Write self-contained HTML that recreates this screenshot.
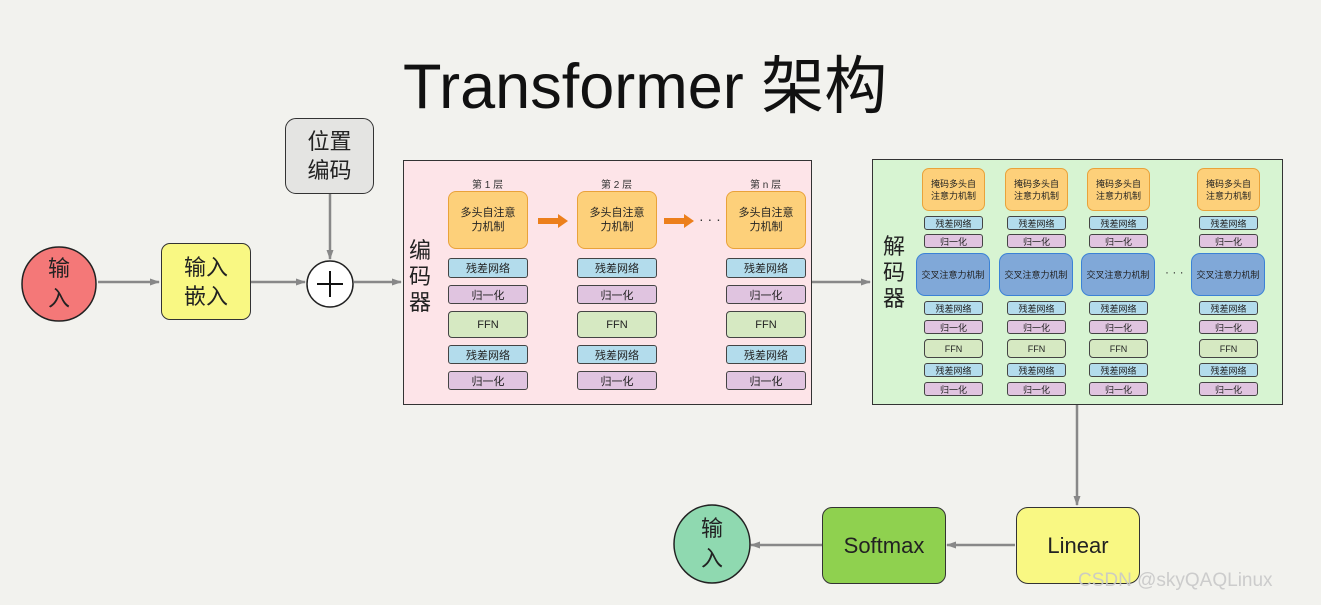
<!DOCTYPE html>
<html><head><meta charset="utf-8"><style>
*{margin:0;padding:0;box-sizing:border-box}
body{width:1321px;height:605px;background:#f2f2ee;position:relative;overflow:hidden;font-family:"Liberation Sans","Noto Sans CJK SC",sans-serif;color:#222}
.a{position:absolute;display:flex;align-items:center;justify-content:center;text-align:center;border:1.5px solid #333}
.r{background:#b3dcec;border-radius:3px;font-size:11px;border:1.3px solid #444}
.n{background:#e0c4e0;border-radius:3px;font-size:11px;border:1.3px solid #444}
.f{background:#d6e9c2;border-radius:4px;font-size:11px;border:1.3px solid #444}
.o{background:#fdd07a;border:1.5px solid #e9a23a;border-radius:8px;font-size:11px;line-height:14px}
.c{background:#80a8d8;border:1.5px solid #3b82d6;border-radius:9px;font-size:9px}
.d .r,.d .n,.d .f{font-size:9px}
.d .o{font-size:9px;line-height:12px;border-radius:7px}
.t{position:absolute;font-size:10px;color:#333}
</style></head><body>
<div style="position:absolute;left:403px;top:36px;font-size:63px;color:#111;">Transformer 架构</div>

<svg width="1321" height="605" style="position:absolute;left:0;top:0">
<defs><marker id="m" markerUnits="userSpaceOnUse" markerWidth="10" markerHeight="10" refX="9" refY="5" orient="auto"><path d="M0,1.5 L10,5 L0,8.5Z" fill="#888"/></marker></defs>
<g stroke="#888" stroke-width="2.5" fill="none">
<line x1="98" y1="282" x2="159" y2="282" marker-end="url(#m)"/>
<line x1="251" y1="282" x2="305" y2="282" marker-end="url(#m)"/>
<line x1="330" y1="194" x2="330" y2="259" marker-end="url(#m)"/>
<line x1="354" y1="282" x2="401" y2="282" marker-end="url(#m)"/>
<line x1="811" y1="282" x2="870" y2="282" marker-end="url(#m)"/>
<line x1="1077" y1="405" x2="1077" y2="505" marker-end="url(#m)"/>
<line x1="1015" y1="545" x2="947" y2="545" marker-end="url(#m)"/>
<line x1="822" y1="545" x2="751" y2="545" marker-end="url(#m)"/>
</g>
<circle cx="59" cy="284" r="37" fill="#f47878" stroke="#222" stroke-width="1.5"/>
<circle cx="330" cy="284" r="23" fill="#fff" stroke="#222" stroke-width="1.5"/>
<path d="M317,284 H343 M330,271 V297" stroke="#111" stroke-width="2"/>
<ellipse cx="712" cy="544" rx="38" ry="39" fill="#8fd9b0" stroke="#222" stroke-width="1.5"/>
</svg>
<div style="position:absolute;left:48px;top:254px;font-size:22px;line-height:30px">输<br>入</div>
<div style="position:absolute;left:701px;top:514px;font-size:22px;line-height:30px">输<br>入</div>
<div class="a" style="left:161px;top:243px;width:90px;height:77px;background:#f9f883;border-radius:9px;font-size:22px;line-height:29px">输入<br>嵌入</div>
<div class="a" style="left:285px;top:118px;width:89px;height:76px;background:#e4e4e2;border-radius:11px;font-size:22px;line-height:29px">位置<br>编码</div>

<!-- encoder -->
<div style="position:absolute;left:403px;top:160px;width:409px;height:245px;background:#fde4e8;border:1.5px solid #333"></div>
<svg width="1321" height="605" style="position:absolute;left:0;top:0">
<path d="M538,218 H558 V214 L568,221 L558,228 V224 H538Z" fill="#ec7f1b"/>
<path d="M664,218 H684 V214 L694,221 L684,228 V224 H664Z" fill="#ec7f1b"/>
</svg>
<div style="position:absolute;left:409px;top:238px;font-size:22px;line-height:26px">编<br>码<br>器</div>
<div class="t" style="left:472px;top:176px">第 1 层</div>
<div class="t" style="left:601px;top:176px">第 2 层</div>
<div class="t" style="left:750px;top:176px">第 n 层</div>
<div class="t" style="left:699px;top:211px;font-size:14px">· · ·</div>

<div class="a o" style="left:448px;top:191px;width:80px;height:58px">多头自注意<br>力机制</div>
<div class="a o" style="left:577px;top:191px;width:80px;height:58px">多头自注意<br>力机制</div>
<div class="a o" style="left:726px;top:191px;width:80px;height:58px">多头自注意<br>力机制</div>

<div class="a r" style="left:448px;top:258px;width:80px;height:20px">残差网络</div>
<div class="a r" style="left:577px;top:258px;width:80px;height:20px">残差网络</div>
<div class="a r" style="left:726px;top:258px;width:80px;height:20px">残差网络</div>
<div class="a n" style="left:448px;top:285px;width:80px;height:19px">归一化</div>
<div class="a n" style="left:577px;top:285px;width:80px;height:19px">归一化</div>
<div class="a n" style="left:726px;top:285px;width:80px;height:19px">归一化</div>
<div class="a f" style="left:448px;top:311px;width:80px;height:27px">FFN</div>
<div class="a f" style="left:577px;top:311px;width:80px;height:27px">FFN</div>
<div class="a f" style="left:726px;top:311px;width:80px;height:27px">FFN</div>
<div class="a r" style="left:448px;top:345px;width:80px;height:19px">残差网络</div>
<div class="a r" style="left:577px;top:345px;width:80px;height:19px">残差网络</div>
<div class="a r" style="left:726px;top:345px;width:80px;height:19px">残差网络</div>
<div class="a n" style="left:448px;top:371px;width:80px;height:19px">归一化</div>
<div class="a n" style="left:577px;top:371px;width:80px;height:19px">归一化</div>
<div class="a n" style="left:726px;top:371px;width:80px;height:19px">归一化</div>

<!-- decoder -->
<div style="position:absolute;left:872px;top:159px;width:411px;height:246px;background:#d7f4d2;border:1.5px solid #333"></div>
<div style="position:absolute;left:883px;top:234px;font-size:22px;line-height:26px">解<br>码<br>器</div>
<div class="t" style="left:1165px;top:265px;font-size:12px">· · ·</div>
<div class="d">
<div class="a o" style="left:922px;top:168px;width:63px;height:43px">掩码多头自<br>注意力机制</div>
<div class="a o" style="left:1005px;top:168px;width:63px;height:43px">掩码多头自<br>注意力机制</div>
<div class="a o" style="left:1087px;top:168px;width:63px;height:43px">掩码多头自<br>注意力机制</div>
<div class="a o" style="left:1197px;top:168px;width:63px;height:43px">掩码多头自<br>注意力机制</div>

<div class="a r" style="left:924px;top:216px;width:59px;height:14px">残差网络</div>
<div class="a r" style="left:1007px;top:216px;width:59px;height:14px">残差网络</div>
<div class="a r" style="left:1089px;top:216px;width:59px;height:14px">残差网络</div>
<div class="a r" style="left:1199px;top:216px;width:59px;height:14px">残差网络</div>
<div class="a n" style="left:924px;top:234px;width:59px;height:14px">归一化</div>
<div class="a n" style="left:1007px;top:234px;width:59px;height:14px">归一化</div>
<div class="a n" style="left:1089px;top:234px;width:59px;height:14px">归一化</div>
<div class="a n" style="left:1199px;top:234px;width:59px;height:14px">归一化</div>

<div class="a c" style="left:916px;top:253px;width:74px;height:43px">交叉注意力机制</div>
<div class="a c" style="left:999px;top:253px;width:74px;height:43px">交叉注意力机制</div>
<div class="a c" style="left:1081px;top:253px;width:74px;height:43px">交叉注意力机制</div>
<div class="a c" style="left:1191px;top:253px;width:74px;height:43px">交叉注意力机制</div>

<div class="a r" style="left:924px;top:301px;width:59px;height:14px">残差网络</div>
<div class="a r" style="left:1007px;top:301px;width:59px;height:14px">残差网络</div>
<div class="a r" style="left:1089px;top:301px;width:59px;height:14px">残差网络</div>
<div class="a r" style="left:1199px;top:301px;width:59px;height:14px">残差网络</div>
<div class="a n" style="left:924px;top:320px;width:59px;height:14px">归一化</div>
<div class="a n" style="left:1007px;top:320px;width:59px;height:14px">归一化</div>
<div class="a n" style="left:1089px;top:320px;width:59px;height:14px">归一化</div>
<div class="a n" style="left:1199px;top:320px;width:59px;height:14px">归一化</div>
<div class="a f" style="left:924px;top:339px;width:59px;height:19px">FFN</div>
<div class="a f" style="left:1007px;top:339px;width:59px;height:19px">FFN</div>
<div class="a f" style="left:1089px;top:339px;width:59px;height:19px">FFN</div>
<div class="a f" style="left:1199px;top:339px;width:59px;height:19px">FFN</div>
<div class="a r" style="left:924px;top:363px;width:59px;height:14px">残差网络</div>
<div class="a r" style="left:1007px;top:363px;width:59px;height:14px">残差网络</div>
<div class="a r" style="left:1089px;top:363px;width:59px;height:14px">残差网络</div>
<div class="a r" style="left:1199px;top:363px;width:59px;height:14px">残差网络</div>
<div class="a n" style="left:924px;top:382px;width:59px;height:14px">归一化</div>
<div class="a n" style="left:1007px;top:382px;width:59px;height:14px">归一化</div>
<div class="a n" style="left:1089px;top:382px;width:59px;height:14px">归一化</div>
<div class="a n" style="left:1199px;top:382px;width:59px;height:14px">归一化</div>
</div>

<div class="a" style="left:822px;top:507px;width:124px;height:77px;background:#8fd14f;border-radius:10px;font-size:22px">Softmax</div>
<div class="a" style="left:1016px;top:507px;width:124px;height:77px;background:#f9f883;border-radius:12px;font-size:22px">Linear</div>
<div style="position:absolute;left:1078px;top:570px;font-size:19px;color:rgba(200,200,200,0.9)">CSDN @skyQAQLinux</div>
</body></html>
